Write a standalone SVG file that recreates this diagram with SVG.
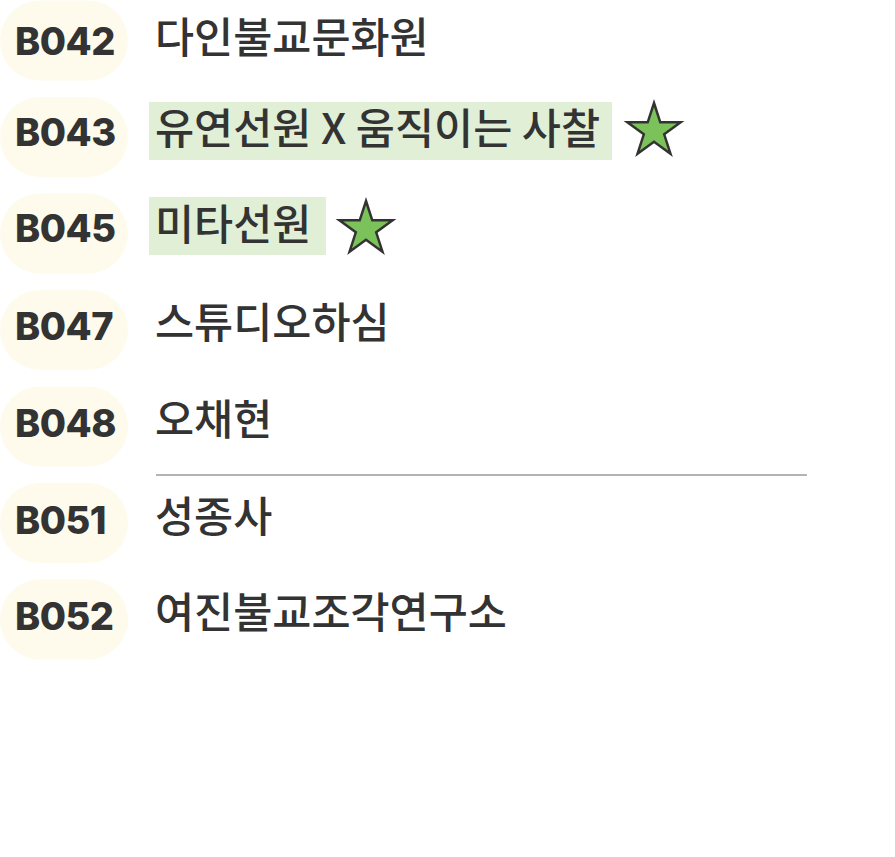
<svg xmlns="http://www.w3.org/2000/svg" xmlns:xlink="http://www.w3.org/1999/xlink" width="895" height="857" viewBox="0 0 895 857">
<style>
.badge{fill:#fefbec}
.code{font-family:Inter,"Liberation Sans","Noto Sans CJK KR",sans-serif;font-weight:800;font-size:38px;fill:#333333;letter-spacing:-0.5px}
.name{font-family:"Noto Sans CJK KR","Noto Sans",sans-serif;font-weight:500;font-size:42.5px;fill:#333333}
.hl{fill:#e0efd6}
.star{fill:#7cc25b;stroke:#333333;stroke-width:2.5;stroke-linejoin:miter}
</style>
<defs>
<path id="star" class="star" d="M0,-28 L6.29,-8.66 L26.63,-8.65 L10.18,3.31 L16.46,22.65 L0,10.7 L-16.46,22.65 L-10.18,3.31 L-26.63,-8.65 L-6.29,-8.66 Z"/>
</defs>
<rect width="895" height="857" fill="#ffffff"/>
<g id="row-B042">
<rect class="badge" x="0" y="0.5" width="128" height="80" rx="40"/>
<text class="code" x="15" y="55">B042</text>
<text class="name" x="155" y="52.5">다인불교문화원</text>
</g>
<g id="row-B043">
<rect class="badge" x="0" y="97" width="128" height="80" rx="40"/>
<rect class="hl" x="149" y="102" width="463" height="58"/>
<text class="code" x="15" y="146">B043</text>
<text class="name" x="155" y="143.5">유연선원 X 움직이는 사찰</text>
<use xlink:href="#star" x="654" y="131"/>
</g>
<g id="row-B045">
<rect class="badge" x="0" y="193.5" width="128" height="80" rx="40"/>
<rect class="hl" x="149" y="197" width="177" height="58"/>
<text class="code" x="15" y="242">B045</text>
<text class="name" x="155" y="239.5">미타선원</text>
<use xlink:href="#star" x="366" y="229"/>
</g>
<g id="row-B047">
<rect class="badge" x="0" y="290" width="128" height="80" rx="40"/>
<text class="code" x="15" y="340">B047</text>
<text class="name" x="155" y="337.5">스튜디오하심</text>
</g>
<g id="row-B048">
<rect class="badge" x="0" y="386.5" width="128" height="80" rx="40"/>
<text class="code" x="15" y="437">B048</text>
<text class="name" x="155" y="434.5">오채현</text>
</g>
<g id="connectors">
<line x1="156" y1="475" x2="807" y2="475" stroke="#b4b4b4" stroke-width="2"/>
</g>
<g id="row-B051">
<rect class="badge" x="0" y="483" width="128" height="80" rx="40"/>
<text class="code" x="15" y="534">B051</text>
<text class="name" x="155" y="531.5">성종사</text>
</g>
<g id="row-B052">
<rect class="badge" x="0" y="579.5" width="128" height="80" rx="40"/>
<text class="code" x="15" y="630">B052</text>
<text class="name" x="155" y="627.5">여진불교조각연구소</text>
</g>
</svg>
